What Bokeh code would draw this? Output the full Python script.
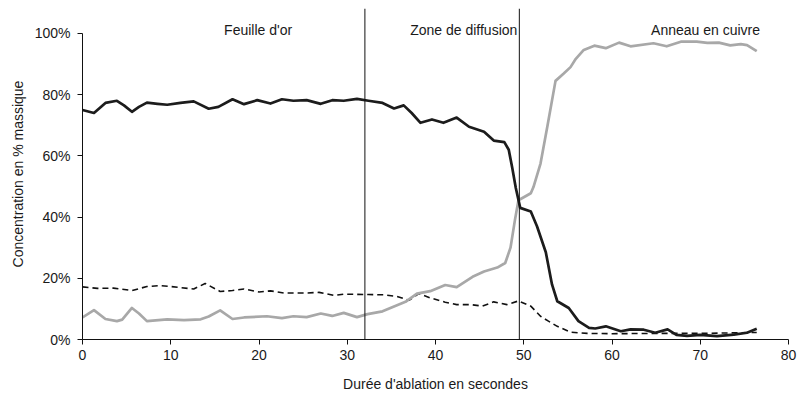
from bokeh.plotting import figure
from bokeh.models import ColumnDataSource, Span, FixedTicker, PrintfTickFormatter
from bokeh.core.properties import value
from bokeh.embed import file_html
from bokeh.resources import INLINE

# ---- data ----
gold_t = [0.0, 1.3, 2.6, 3.9, 4.7, 5.6, 6.4, 7.3, 8.5, 9.6, 11.1, 12.6, 14.3, 15.4,
          17.0, 18.3, 19.8, 21.3, 22.6, 23.9, 25.4, 27.0, 28.3, 29.6, 31.1, 32.4,
          34.0, 35.3, 36.4, 37.3, 38.3, 39.6, 40.9, 42.4, 43.8, 45.5, 46.6, 47.8,
          48.3, 48.7, 49.1, 49.6, 50.8, 51.5, 52.5, 53.2, 53.8, 55.1, 56.2, 57.4,
          58.1, 59.3, 61.0, 62.1, 63.6, 64.9, 66.3, 67.3, 68.5, 70.0, 71.9, 73.8,
          75.3, 76.4]
gold_pct = [75.0, 74.0, 77.3, 78.0, 76.5, 74.4, 76.0, 77.4, 77.0, 76.7, 77.3, 77.8,
            75.4, 76.0, 78.5, 76.9, 78.2, 77.1, 78.5, 78.0, 78.2, 77.0, 78.2, 78.0,
            78.6, 78.0, 77.3, 75.5, 76.5, 74.0, 70.8, 71.9, 70.8, 72.5, 69.5, 67.9,
            65.0, 64.5, 62.0, 56.0, 49.5, 43.0, 41.8, 37.0, 28.5, 18.0, 12.5, 10.3,
            6.0, 3.8, 3.6, 4.3, 2.7, 3.3, 3.2, 2.2, 3.3, 1.5, 1.2, 1.5, 1.1, 1.6,
            2.2, 3.5]

copper_t = [0.0, 1.3, 2.6, 3.9, 4.5, 5.6, 6.4, 7.3, 9.6, 11.5, 13.4, 14.3, 15.6,
            17.0, 18.3, 20.9, 22.6, 23.9, 25.4, 27.0, 28.3, 29.6, 31.1, 32.3, 34.0,
            35.3, 36.6, 37.9, 39.4, 41.1, 42.4, 44.2, 45.5, 47.0, 47.9, 48.5, 49.0,
            49.4, 50.8, 51.1, 51.9, 52.7, 53.6, 54.5, 55.3, 55.9, 56.8, 58.0, 59.3,
            60.8, 62.1, 64.7, 66.2, 67.8, 69.6, 70.8, 72.1, 73.4, 74.6, 75.3, 76.4]
copper_pct = [7.2, 9.6, 6.7, 6.0, 6.5, 10.3, 8.5, 6.0, 6.6, 6.3, 6.6, 7.5, 9.5,
              6.7, 7.2, 7.6, 7.0, 7.6, 7.3, 8.5, 7.7, 8.7, 7.3, 8.3, 9.2, 10.8,
              12.3, 15.0, 15.8, 17.8, 17.1, 20.5, 22.2, 23.5, 25.0, 30.0, 39.0,
              45.5, 47.8, 49.8, 57.5, 70.0, 84.5, 86.8, 89.0, 91.7, 94.6, 96.0,
              95.2, 97.0, 95.8, 96.8, 95.8, 97.3, 97.3, 96.9, 97.0, 96.1, 96.5,
              96.2, 94.2]

silver_t = [0.0, 1.7, 3.5, 5.6, 7.3, 8.8, 10.0, 12.6, 13.9, 15.6, 17.0, 18.3, 20.0,
            21.3, 22.8, 25.4, 26.8, 28.5, 29.6, 32.4, 34.1, 35.6, 37.0, 38.1, 39.4,
            41.1, 42.4, 44.0, 45.3, 46.6, 48.1, 49.4, 50.8, 51.9, 52.8, 53.8, 55.3,
            57.2, 60.0, 65.0, 70.0, 76.4]
silver_pct = [17.2, 16.7, 16.8, 16.0, 17.3, 17.6, 17.3, 16.5, 18.3, 15.7, 16.0,
              16.5, 15.5, 15.9, 15.2, 15.2, 15.4, 14.4, 14.8, 14.7, 14.6, 14.1,
              12.8, 15.0, 13.6, 12.2, 11.4, 11.4, 10.9, 12.3, 11.4, 12.6, 10.9,
              7.6, 6.0, 4.3, 2.4, 2.0, 1.9, 2.0, 2.0, 2.3]

x_ticks = [0, 10, 20, 30, 40, 50, 60, 70, 80]
y_ticks = [0, 20, 40, 60, 80, 100]
zone_bounds = [32, 49.5]
zone_names = ["Feuille d'or", "Zone de diffusion", "Anneau en cuivre"]

# ---- layout / style ----
FONT = "Liberation Sans"
zone_label_x = [19.9, 43.2, 70.6]
zone_label_y = [101.0, 101.0, 101.0]

p = figure(width=798, height=394, x_range=(0, 80), y_range=(0, 108.15),
           output_backend="svg", toolbar_location=None,
           min_border_left=82, min_border_right=10, min_border_top=8,
           min_border_bottom=54)
p.outline_line_color = None
p.xgrid.visible = False
p.ygrid.visible = False
p.background_fill_color = "white"
p.border_fill_color = "white"

for xb in zone_bounds:
    p.add_layout(Span(location=xb, dimension="height", line_color="#111111",
                      line_width=1))

p.line(silver_t, silver_pct, line_color="#111111", line_width=1.6,
       line_dash="6 4")
p.line(copper_t, copper_pct, line_color="#a8a8a8", line_width=2.7,
       line_join="round")
p.line(gold_t, gold_pct, line_color="#1c1c1c", line_width=2.7,
       line_join="round")

src = ColumnDataSource(dict(x=zone_label_x, y=zone_label_y, t=zone_names))
p.text(x="x", y="y", text="t", source=src, text_font=value(FONT),
       text_font_size="14px", text_align="center", text_baseline="middle",
       text_color="#1a1a1a")

xa = p.xaxis[0]
xa.ticker = FixedTicker(ticks=x_ticks)
xa.axis_label = "Durée d'ablation en secondes"
ya = p.yaxis[0]
ya.ticker = FixedTicker(ticks=y_ticks)
ya.formatter = PrintfTickFormatter(format="%d%%")
ya.axis_label = "Concentration en % massique"
ya.bounds = (0, 100)

for ax in (xa, ya):
    ax.axis_line_color = "#111111"
    ax.axis_line_width = 1
    ax.major_tick_line_color = "#111111"
    ax.major_tick_out = 5
    ax.major_tick_in = 0
    ax.minor_tick_line_color = None
    ax.major_label_text_font = FONT
    ax.major_label_text_font_size = "14px"
    ax.major_label_text_color = "#1a1a1a"
    ax.axis_label_text_font = FONT
    ax.axis_label_text_font_size = "14px"
    ax.axis_label_text_font_style = "normal"
    ax.axis_label_text_color = "#1a1a1a"
xa.major_label_standoff = 5
xa.axis_label_standoff = 13
ya.major_label_standoff = 7
ya.axis_label_standoff = 6

open("out.html", "w").write(file_html(p, INLINE))
